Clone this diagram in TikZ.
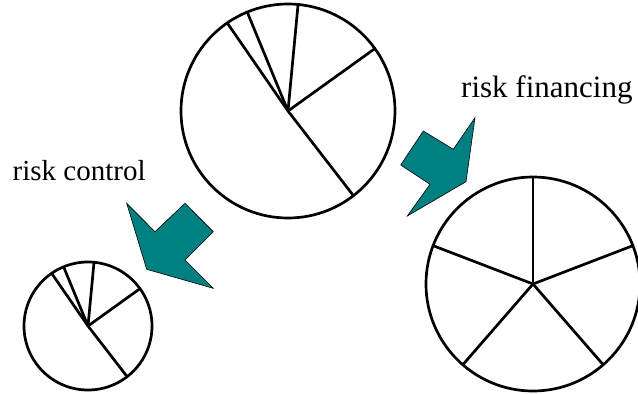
\documentclass[tikz,border=0pt]{standalone}
\usepackage{fontspec}
\setmainfont[Ligatures=NoCommon]{Liberation Serif}
\usepackage{xcolor}
\definecolor{arrowteal}{RGB}{0,128,128}

\begin{document}
\begin{tikzpicture}[x=1pt,y=1pt,
	pie/.style={line width=2.7pt},
	blockarrow/.style={fill=arrowteal,draw=black,line width=0.6pt,line join=miter},
	lbl/.style={inner sep=0pt,anchor=base west}]
\useasboundingbox(0,0)rectangle(638,-394);
% the three pies
\coordinate(pie1)at(288,-111);
\coordinate(pie2)at(88,-326);
\coordinate(pie3)at(533,-284);
\draw[pie](pie1)circle[radius=107pt];
\foreach\a in{124.6,112.4,84.6,35.7,-52.3}\draw[pie](pie1)--++(\a:107);
\draw[pie](pie2)circle[radius=64pt];
\foreach\a in{124.6,112.4,84.6,35.7,-52.3}\draw[pie](pie2)--++(\a:64);
\draw[pie](pie3)circle[radius=107pt];
\foreach\a in{90,21,159,229,311}\draw[pie](pie3)--++(\a:107);
% block arrows
\draw[blockarrow](126.7,-203.3)--(155,-231.7)--(185,-203.3)--(213.3,-231.7)--(185,-260)--(213.3,-288.3)--(146.7,-269.3)--cycle;
\draw[blockarrow](475,-117.7)--(453.3,-149.3)--(423.3,-131)--(400.7,-165)--(430,-184.3)--(407.3,-216)--(466,-181.7)--cycle;
% labels
\node[lbl,font=\fontsize{29}{35}\selectfont](ctrl)at(12.5,-180){risk control};
\node[lbl,font=\fontsize{31}{37}\selectfont](fin)at(461,-97){risk financing};
\end{tikzpicture}
\end{document}
